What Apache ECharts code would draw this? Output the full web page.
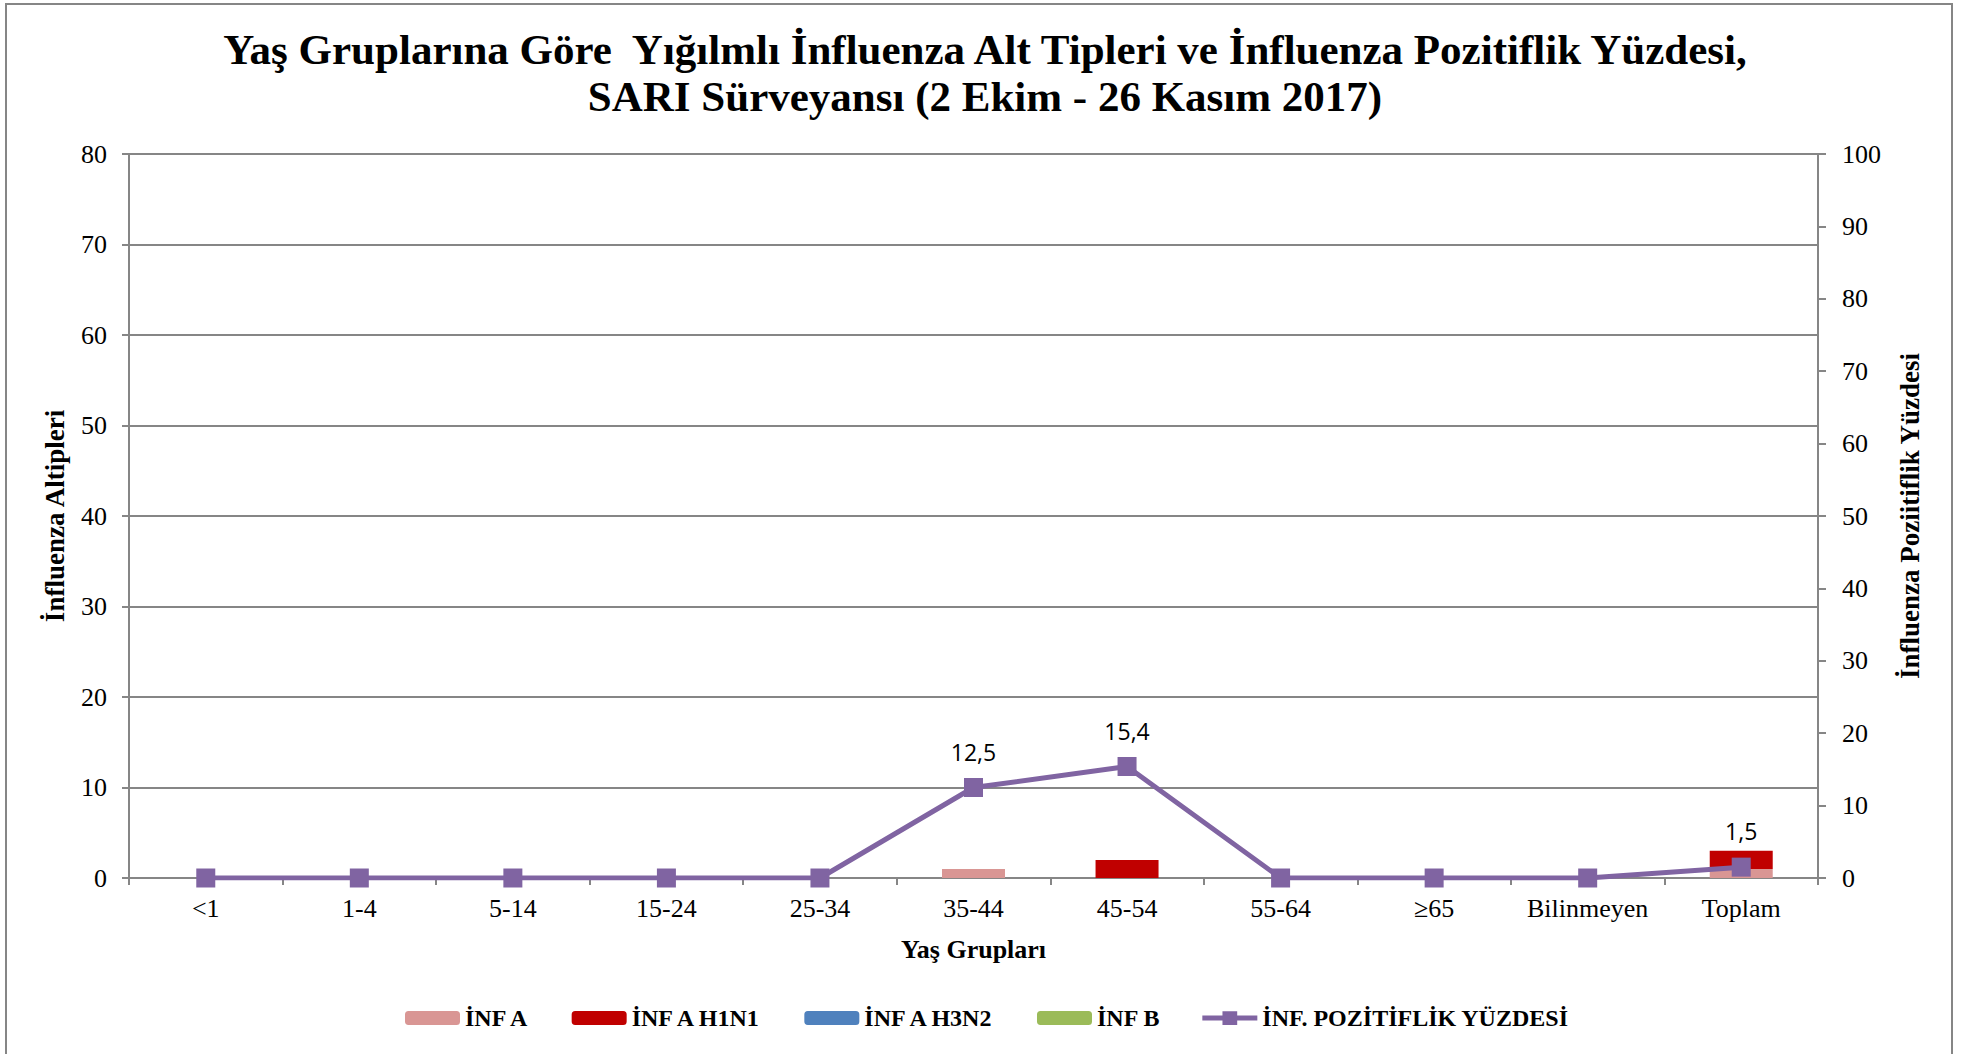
<!DOCTYPE html>
<html>
<head>
<meta charset="utf-8">
<script src="https://cdn.jsdelivr.net/npm/echarts@6/dist/echarts.min.js"></script>
<style>
  html, body { margin: 0; padding: 0; background: #fff; }
  #chart { width: 1979px; height: 1054px; }
</style>
</head>
<body>
<div id="chart"></div>
<script>
var categories = ['<1', '1-4', '5-14', '15-24', '25-34', '35-44', '45-54', '55-64', '\u226565', 'Bilinmeyen', 'Toplam'];
var infA = [0, 0, 0, 0, 0, 1, 0, 0, 0, 0, 1];
var infAH1N1 = [0, 0, 0, 0, 0, 0, 2, 0, 0, 0, 2];
var infAH3N2 = [0, 0, 0, 0, 0, 0, 0, 0, 0, 0, 0];
var infB = [0, 0, 0, 0, 0, 0, 0, 0, 0, 0, 0];
var positivity = [0, 0, 0, 0, 0, 12.5, 15.4, 0, 0, 0, 1.5];

var serif = '"Liberation Serif", "Times New Roman", serif';
var grey = '#868686';
var purple = '#8064A2';

var chart = echarts.init(document.getElementById('chart'), null, { renderer: 'svg' });

function barSeries(name, data, color) {
  return {
    name: name,
    type: 'bar',
    stack: 'inf',
    yAxisIndex: 0,
    barWidth: 63,
    data: data,
    itemStyle: { color: color }
  };
}

chart.setOption({
  animation: false,
  backgroundColor: '#fff',
  graphic: [{
    type: 'rect',
    shape: { x: 6, y: 4, width: 1946, height: 1060 },
    style: { fill: 'none', stroke: grey, lineWidth: 2 },
    silent: true
  }],
  title: {
    text: 'Yaş Gruplarına Göre  Yığılmlı İnfluenza Alt Tipleri ve İnfluenza Pozitiflik Yüzdesi,\nSARI Sürveyansı (2 Ekim - 26 Kasım 2017)',
    left: 980,
    top: 21,
    textAlign: 'center',
    textStyle: { fontFamily: serif, fontWeight: 'bold', fontSize: 43, lineHeight: 47, color: '#000' }
  },
  legend: {
    bottom: 19,
    left: 400,
    itemWidth: 55,
    itemHeight: 14,
    itemGap: 42,
    textStyle: { fontFamily: serif, fontWeight: 'bold', fontSize: 24, color: '#000' },
    data: ['İNF A', 'İNF A H1N1', 'İNF A H3N2', 'İNF B', {
      name: 'İNF. POZİTİFLİK YÜZDESİ',
      icon: 'path://M0,4.5L56,4.5L56,9.5L0,9.5Z M20.5,0L35.5,0L35.5,14L20.5,14Z',
      itemStyle: { color: purple }
    }]
  },
  grid: { left: 129, right: 161, top: 154, bottom: 176 },
  xAxis: {
    type: 'category',
    data: categories,
    name: 'Yaş Grupları',
    nameLocation: 'middle',
    nameGap: 58,
    nameTextStyle: { fontFamily: serif, fontWeight: 'bold', fontSize: 26, color: '#000' },
    axisLine: { lineStyle: { color: grey, width: 2 } },
    axisTick: { show: true, interval: 0, length: 7, lineStyle: { color: grey, width: 2 } },
    axisLabel: { interval: 0, margin: 17, fontFamily: serif, fontSize: 26, color: '#000' }
  },
  yAxis: [{
    type: 'value',
    min: 0,
    max: 80,
    interval: 10,
    name: 'İnfluenza Altipleri',
    nameLocation: 'middle',
    nameRotate: 90,
    nameGap: 61,
    nameTextStyle: { fontFamily: serif, fontWeight: 'bold', fontSize: 27, color: '#000' },
    axisLine: { show: true, lineStyle: { color: grey, width: 2 } },
    axisTick: { show: true, length: 7, lineStyle: { color: grey, width: 2 } },
    axisLabel: { margin: 22, fontFamily: serif, fontSize: 26, color: '#000' },
    splitLine: { show: true, lineStyle: { color: grey, width: 2 } }
  }, {
    type: 'value',
    min: 0,
    max: 100,
    interval: 10,
    position: 'right',
    name: 'İnfluenza Poziitiflik Yüzdesi',
    nameLocation: 'middle',
    nameRotate: 90,
    nameGap: 78,
    nameTextStyle: { fontFamily: serif, fontWeight: 'bold', fontSize: 27, color: '#000' },
    axisLine: { show: true, lineStyle: { color: grey, width: 2 } },
    axisTick: { show: true, length: 8, lineStyle: { color: grey, width: 2 } },
    axisLabel: { margin: 24, fontFamily: serif, fontSize: 26, color: '#000' },
    splitLine: { show: false }
  }],
  series: [
    barSeries('İNF A', infA, '#D99694'),
    barSeries('İNF A H1N1', infAH1N1, '#C00000'),
    barSeries('İNF A H3N2', infAH3N2, '#4F81BD'),
    barSeries('İNF B', infB, '#9BBB59'),
    {
      name: 'İNF. POZİTİFLİK YÜZDESİ',
      type: 'line',
      yAxisIndex: 1,
      data: positivity,
      symbol: 'rect',
      symbolSize: 19,
      lineStyle: { color: purple, width: 5 },
      itemStyle: { color: purple },
      z: 5,
      label: {
        show: true,
        position: 'top',
        distance: 15,
        fontFamily: '"Open Sans", "Liberation Sans", sans-serif',
        fontSize: 23,
        color: '#000',
        formatter: function(p) { return p.value ? String(p.value).replace('.', ',') : ''; }
      }
    }
  ]
});
</script>
</body>
</html>
